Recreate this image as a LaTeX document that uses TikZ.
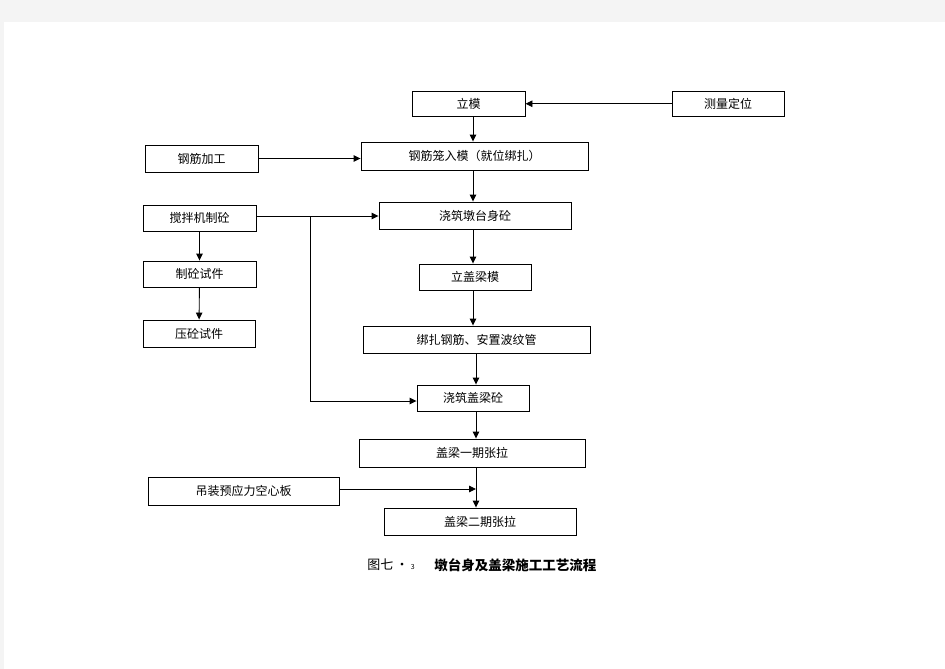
\documentclass[tikz,border=0pt]{standalone}
\usepackage{fontspec}
\setmainfont{Noto Sans CJK SC}
\usetikzlibrary{arrows.meta}
\definecolor{pagegray}{HTML}{F4F4F4}

\begin{document}
\begin{tikzpicture} [x=1pt,y=-1pt,thin,line width=0.9pt,
			>={Triangle[length=7pt,width=6.5pt]},
			every node/.style={font=\fontsize{12}{13}\selectfont,inner sep=0pt},
			stepbox/.style={draw,line width=0.9pt,minimum height=26pt},
			arr/.style={->}]

		% page
		\fill [pagegray] (0,0) rectangle (945,669);
		\fill [white] (4,22) rectangle (945,669);
		\useasboundingbox (0,0) rectangle (945,669);

		\node [stepbox, minimum width=113pt, minimum height=25pt] (lm) at (468.5,103.5) {立模};
		\node [stepbox, minimum width=112pt, minimum height=25.5pt] (cldw) at (728,103.75) {测量定位};
		\node [stepbox, minimum width=227pt, minimum height=28pt] (gjl) at (474.5,156) {钢筋笼入模（就位绑扎）};
		\node [stepbox, minimum width=113pt, minimum height=27pt] (gjjg) at (201.5,158.5) {钢筋加工};
		\node [stepbox, minimum width=192pt, minimum height=27pt] (jzdt) at (475,215.5) {浇筑墩台身砼};
		\node [stepbox, minimum width=113pt] (jbj) at (199.5,218) {搅拌机制砼};
		\node [stepbox, minimum width=113pt] (zsj) at (199.5,274) {制砼试件};
		\node [stepbox, minimum width=112pt, minimum height=27pt] (ysj) at (199,333.5) {压砼试件};
		\node [stepbox, minimum width=112pt] (lglm) at (475,277) {立盖梁模};
		\node [stepbox, minimum width=227pt, minimum height=27pt] (bzgj) at (476.5,339.5) {绑扎钢筋、安置波纹管};
		\node [stepbox, minimum width=112pt] (jzgl) at (473,398) {浇筑盖梁砼};
		\node [stepbox, minimum width=226pt, minimum height=28pt] (yqzl) at (472,453) {盖梁一期张拉};
		\node [stepbox, minimum width=191pt, minimum height=28pt] (dz) at (243.5,491) {吊装预应力空心板};
		\node [stepbox, minimum width=192pt, minimum height=27pt] (eqzl) at (480,521.5) {盖梁二期张拉};

		\coordinate (colA) at (473,0);
		\coordinate (colB) at (476,0);
		\coordinate (fork) at (310,216);

		% main line
		\draw [arr] (lm.south -| colA) -- (gjl.north -| colA);
		\draw [arr] (gjl.south -| colA) -- (jzdt.north -| colA);
		\draw [arr] (jzdt.south -| colA) -- (lglm.north -| colA);
		\draw [arr] (lglm.south -| colA) -- (bzgj.north -| colA);
		\draw [arr] (bzgj.south -| colB) -- (jzgl.north -| colB);
		\draw [arr] (jzgl.south -| colB) -- (yqzl.north -| colB);
		\draw [arr] (yqzl.south -| colB) -- (eqzl.north -| colB);

		% side inputs
		\draw [arr] (cldw.west) -- (cldw.west -| lm.east);
		\draw [arr] (gjjg.east) -- (gjjg.east -| gjl.west);
		\draw [arr] (jbj.east |- fork) -- (fork -| jzdt.west);
		\draw [arr] (fork) |- ([yshift=-3pt]jzgl.west);
		\draw [arr] (jbj) -- (zsj);
		\draw [arr] (zsj) -- (ysj);
		\draw [arr] ([yshift=2pt]dz.east) -- ([yshift=2pt]dz.east -| colB);

		% caption
		\node [anchor=west] (capno) at (367,565) {\fontsize{13}{15}\selectfont 图七\,·\,{\fontsize{7}{8}\selectfont 3}};
		\node [anchor=west] (captxt) at (434,565) {\fontsize{13.5}{15}\selectfont\bfseries 墩台身及盖梁施工工艺流程};

		\end{tikzpicture}
\end{document}
